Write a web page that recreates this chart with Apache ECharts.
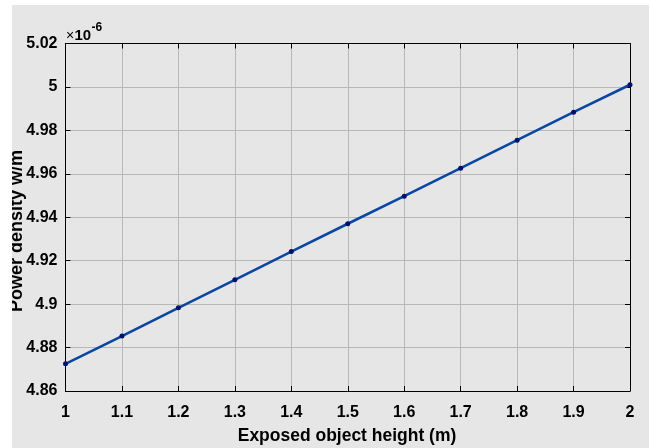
<!DOCTYPE html>
<html><head><meta charset="utf-8">
<script src="https://cdn.jsdelivr.net/npm/echarts@6/dist/echarts.min.js"></script>
<style>html,body{margin:0;padding:0;background:#fff}#c{width:649px;height:448px}</style>
</head><body><div id="c"></div>
<script>
const heights = [1.0, 1.1, 1.2, 1.3, 1.4, 1.5, 1.6, 1.7, 1.8, 1.9, 2.0];
const density = [4.8725, 4.8853, 4.8983, 4.9112, 4.9242, 4.9370, 4.9497, 4.9626, 4.9755, 4.9884, 5.0010];
const xTitle = 'Exposed object height (m)';
const yTitle = 'Power density w/m';
const yMultSign = '\u00d7';
const yMult = '10';
const yExp = '-6';

const F = 'Liberation Sans, Arial, sans-serif';
const chart = echarts.init(document.getElementById('c'));
const axisCommon = {
  axisLine: {show: true, onZero: false, lineStyle: {color: '#000', width: 1}},
  axisTick: {show: true, inside: true, length: 5, lineStyle: {color: '#000'}},
};
chart.setOption({
  backgroundColor: '#e6e6e6',
  animation: false,
  grid: {left: 65.5, right: 19, top: 43.5, bottom: 57, show: true, backgroundColor: '#e6e6e6', borderWidth: 0},
  xAxis: [{
    type: 'value', min: 1, max: 2, interval: 0.1,
    ...axisCommon,
    axisLabel: {color: '#000', fontFamily: F, fontWeight: 'bold', fontSize: 16, margin: 14,
      formatter: v => String(Math.round(v * 10) / 10)},
    splitLine: {show: true, lineStyle: {color: '#b8b8b8', width: 1}}
  }, {
    type: 'value', min: 1, max: 2, interval: 0.1, position: 'top',
    ...axisCommon, axisLabel: {show: false}, splitLine: {show: false}
  }],
  yAxis: [{
    type: 'value', min: 4.86, max: 5.02, interval: 0.02,
    ...axisCommon,
    axisLabel: {color: '#000', fontFamily: F, fontWeight: 'bold', fontSize: 16, margin: 8,
      formatter: v => String(Math.round(v * 100) / 100)},
    splitLine: {show: true, lineStyle: {color: '#b8b8b8', width: 1}}
  }, {
    type: 'value', min: 4.86, max: 5.02, interval: 0.02, position: 'right',
    ...axisCommon, axisLabel: {show: false}, splitLine: {show: false}
  }],
  series: [{
    type: 'line',
    data: heights.map((h, i) => [h, density[i]]),
    lineStyle: {color: '#0a47a3', width: 2.6},
    symbol: 'circle', symbolSize: 5,
    itemStyle: {color: '#00106e', borderWidth: 0},
    z: 5
  }],
  graphic: [
    {type: 'text', x: 347, y: 435.5, scaleX: 0.945, z: 10,
      style: {text: xTitle, fill: '#000', font: 'bold 18.5px ' + F, textAlign: 'center', textVerticalAlign: 'middle'}},
    {type: 'text', x: 17, y: 231, rotation: Math.PI / 2, z: 10,
      style: {text: yTitle, fill: '#000', font: 'bold 18px ' + F, textAlign: 'center', textVerticalAlign: 'middle'}},
    {type: 'text', x: 66, y: 36, z: 10,
      style: {text: yMultSign, fill: '#000', font: '14px ' + F, textAlign: 'left', textVerticalAlign: 'middle'}},
    {type: 'text', x: 74.5, y: 35.5, z: 10,
      style: {text: yMult, fill: '#000', font: 'bold 15px ' + F, textAlign: 'left', textVerticalAlign: 'middle'}},
    {type: 'text', x: 91.5, y: 28, z: 10,
      style: {text: yExp, fill: '#000', font: 'bold 12px ' + F, textAlign: 'left', textVerticalAlign: 'middle'}},
    {type: 'rect', shape: {x: 0, y: 0, width: 12, height: 448}, z: 100, style: {fill: '#fff'}},
    {type: 'rect', shape: {x: 0, y: 0, width: 649, height: 5}, z: 100, style: {fill: '#fff'}}
  ]
});
</script></body></html>
